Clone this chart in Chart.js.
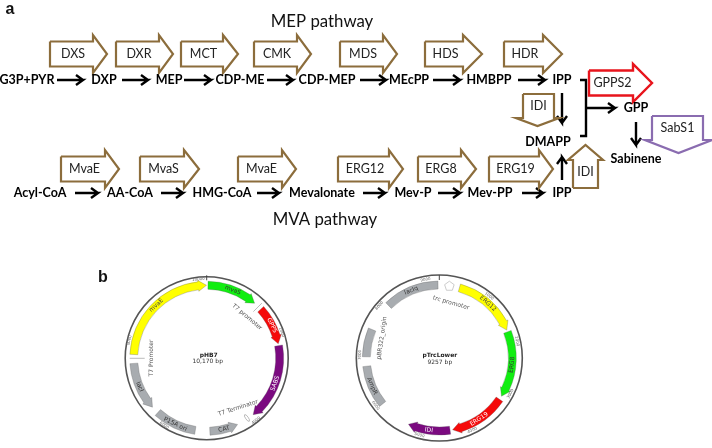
<!DOCTYPE html>
<html>
<head>
<meta charset="utf-8">
<style>
  html, body { margin: 0; padding: 0; background: #fff; }
  #wrap { position: relative; width: 712px; height: 448px; }
</style>
<script src="https://cdn.jsdelivr.net/npm/chart.js@4"></script>
</head>
<body>
<div id="wrap"><canvas id="chart" width="712" height="448"></canvas></div>
<script>
// pathway block arrows, right pointing: name, left, head base, tip, mid y
var enzymeNames = ['DXS', 'DXR', 'MCT', 'CMK', 'MDS', 'HDS', 'HDR', 'MvaE', 'MvaS', 'MvaE', 'ERG12', 'ERG8', 'ERG19', 'GPPS2'];
var enzymeLeft = [50, 116, 181, 254, 340, 425, 504, 61, 140, 238, 338, 418, 489, 589];
var enzymeBase = [93, 159, 223, 297, 383, 463, 543, 105, 184, 282, 389, 461, 539, 633];
var enzymeTip = [107, 173, 238, 311, 397, 482, 562, 119, 199, 296, 403, 476, 553, 652];
var enzymeMid = [54, 54, 54, 54, 54, 54, 54, 169, 169, 169, 169, 169, 169, 83];

// vertical block arrows: name, box left, box right, head left, head right, tail y, head base y, tip y
var vertNames = ['IDI', 'IDI', 'SabS1'];
var vertLeft = [523, 573, 652];
var vertRight = [554, 598, 703];
var vertHeadLeft = [516, 568, 645];
var vertHeadRight = [559, 603, 712];
var vertTail = [94, 188, 116];
var vertBase = [118, 160, 140];
var vertTipY = [126, 145, 153];

// reaction arrows
var arrowX0 = [57, 122, 184, 267, 360, 433, 518, 75, 161, 257, 363, 438, 522, 562, 562, 586, 636];
var arrowY0 = [80, 80, 80, 80, 80, 80, 80, 193, 193, 193, 193, 193, 193, 93, 180, 108, 122];
var arrowX1 = [83, 148, 211, 293, 386, 460, 545, 98, 183, 279, 385, 460, 543, 562, 562, 615, 636];
var arrowY1 = [80, 80, 80, 80, 80, 80, 80, 193, 193, 193, 193, 193, 193, 123, 157, 108, 145];

// bracket joining IPP and DMAPP
var bracketX = [580, 586, 586, 580];
var bracketY = [80, 80, 136, 136];

// metabolites
var metaboliteNames = ['G3P+PYR', 'DXP', 'MEP', 'CDP-ME', 'CDP-MEP', 'MEcPP', 'HMBPP', 'IPP', 'GPP', 'DMAPP', 'Sabinene', 'Acyl-CoA', 'AA-CoA', 'HMG-CoA', 'Mevalonate', 'Mev-P', 'Mev-PP', 'IPP'];
var metaboliteX = [27, 104, 169, 240, 327, 409, 489, 562, 636, 548, 636, 40, 130, 222, 322, 413, 490, 562];
var metaboliteY = [80, 80, 80, 80, 80, 80, 80, 80, 108, 142, 159, 193, 193, 193, 193, 193, 193, 193];

// plasmid pHB7
var hb7Center = [206.7, 358.3];
var hb7Size = 10170;
var hb7Names = ['mvaE', 'mvaS', 'GPPS', 'SABS', 'CAT', 'P15A ori', 'lacI'];
var hb7Start = [7712, 28, 1348, 2260, 5015, 6272, 7514];
var hb7End = [10165, 1158, 2220, 3969, 4379, 5339, 6441];
var hb7Colors = ['#ffff00', '#11ee11', '#f50a0a', '#7b0a80', '#a8acb0', '#a8acb0', '#a8acb0'];
var hb7TextColors = ['#444', '#333', '#fff', '#fff', '#333', '#333', '#333'];
var hb7Heads = [true, true, true, true, true, false, true];
var hb7Ticks = [2000, 4000, 6000, 8000, 10000];

// plasmid pTrcLower
var trcCenter = [439.3, 358];
var trcSize = 9257;
var trcNames = ['ERG12', 'ERG8', 'ERG19', 'IDI', 'AmpR', 'lacIq'];
var trcStart = [411, 1774, 3201, 4410, 6777, 9231];
var trcEnd = [1736, 3127, 4358, 5271, 5939, 8125];
var trcColors = ['#ffff00', '#11ee11', '#f50a0a', '#7b0a80', '#a8acb0', '#a8acb0'];
var trcTextColors = ['#444', '#333', '#fff', '#fff', '#333', '#333'];
var trcHeads = [true, true, true, true, false, false];
var trcTicks = [1000, 2000, 3000, 4000, 5000, 6000, 7000, 8000, 9000];
var trcOriginStart = 7533;
var trcOriginEnd = 6967;

// free text on the plasmids: text, x, y, rotation
var noteTexts = ['T7 promoter', 'T7 Terminator', 'T7 Promoter', 'trc promoter', 'pBR322_origin'];
var noteX = [247, 238, 151.5, 451, 382];
var noteY = [317, 408, 358, 303, 338];
var noteAngle = [40, -18, -90, 16, -82];

var enzymeColor = '#8c6d3c';

function enzymeColorAt(i) {
  if (enzymeNames[i] === 'GPPS2') return '#e8141c';
  return enzymeColor;
}

function enzymeOutline(i) {
  var mid = enzymeMid[i];
  return [
    { x: enzymeLeft[i], y: mid - 12.5 }, { x: enzymeBase[i], y: mid - 12.5 }, { x: enzymeBase[i], y: mid - 19 },
    { x: enzymeTip[i], y: mid }, { x: enzymeBase[i], y: mid + 19 }, { x: enzymeBase[i], y: mid + 12.5 },
    { x: enzymeLeft[i], y: mid + 12.5 }, { x: enzymeLeft[i], y: mid - 12.5 }
  ];
}

function vertOutline(i) {
  var tipX = (vertHeadLeft[i] + vertHeadRight[i]) / 2;
  return [
    { x: vertLeft[i], y: vertTail[i] }, { x: vertRight[i], y: vertTail[i] }, { x: vertRight[i], y: vertBase[i] },
    { x: vertHeadRight[i], y: vertBase[i] }, { x: tipX, y: vertTipY[i] }, { x: vertHeadLeft[i], y: vertBase[i] },
    { x: vertLeft[i], y: vertBase[i] }, { x: vertLeft[i], y: vertTail[i] }
  ];
}

function arrowPath(i) {
  var x0 = arrowX0[i], y0 = arrowY0[i], x1 = arrowX1[i], y1 = arrowY1[i];
  var len = Math.sqrt((x1 - x0) * (x1 - x0) + (y1 - y0) * (y1 - y0));
  var ux = (x1 - x0) / len, uy = (y1 - y0) / len;
  return [
    { x: x0, y: y0 }, { x: x1, y: y1 },
    { x: x1 - ux * 7 - uy * 5, y: y1 - uy * 7 + ux * 5 },
    { x: x1, y: y1 },
    { x: x1 - ux * 7 + uy * 5, y: y1 - uy * 7 - ux * 5 }
  ];
}

function lineSet(points, color, width) {
  return {
    type: 'scatter', showLine: true, data: points, borderColor: color, borderWidth: width,
    pointRadius: 0, fill: false, tension: 0, borderJoinStyle: 'miter'
  };
}

var datasets = [];
enzymeNames.forEach(function (name, i) {
  datasets.push(lineSet(enzymeOutline(i), enzymeColorAt(i), name === 'GPPS2' ? 2.4 : 2.2));
});
vertNames.forEach(function (name, i) {
  datasets.push(lineSet(vertOutline(i), name === 'SabS1' ? '#8a6cb0' : enzymeColor, 2.2));
});
arrowX0.forEach(function (x, i) {
  datasets.push(lineSet(arrowPath(i), '#000', 2.4));
});
datasets.push(lineSet(bracketX.map(function (x, i) { return { x: x, y: bracketY[i] }; }), '#000', 2.4));
// backbone rings
datasets.push({
  type: 'scatter', data: [{ x: hb7Center[0], y: hb7Center[1] }], pointRadius: 81.5,
  pointBorderWidth: 1.6, pointBorderColor: '#555', pointBackgroundColor: 'rgba(0,0,0,0)', clip: false
});
datasets.push({
  type: 'scatter', data: [{ x: trcCenter[0], y: trcCenter[1] }], pointRadius: 83,
  pointBorderWidth: 1.6, pointBorderColor: '#555', pointBackgroundColor: 'rgba(0,0,0,0)', clip: false
});

function drawLabel(ctx, scales, text, x, y, font, color, angle) {
  ctx.save();
  ctx.translate(scales.x.getPixelForValue(x), scales.y.getPixelForValue(y));
  if (angle) ctx.rotate(angle * Math.PI / 180);
  ctx.font = font;
  ctx.fillStyle = color;
  ctx.textAlign = 'center';
  ctx.textBaseline = 'middle';
  ctx.fillText(text, 0, 0);
  ctx.restore();
}

function polar(cx, cy, r, deg) {
  var a = (deg - 90) * Math.PI / 180;
  return { x: cx + r * Math.cos(a), y: cy + r * Math.sin(a) };
}

function drawFeature(ctx, cx, cy, startDeg, endDeg, color, hasHead) {
  var inner = 69, outer = 77, mid = 73;
  var dir = endDeg > startDeg ? 1 : -1;
  var headDeg = hasHead ? 6.5 : 0;
  var baseDeg = endDeg - dir * headDeg;
  var ccw = dir < 0;
  ctx.beginPath();
  ctx.arc(cx, cy, outer, (startDeg - 90) * Math.PI / 180, (baseDeg - 90) * Math.PI / 180, ccw);
  if (hasHead) {
    var p1 = polar(cx, cy, outer + 1.5, baseDeg);
    var tip = polar(cx, cy, mid, endDeg);
    var p2 = polar(cx, cy, inner - 1.5, baseDeg);
    ctx.lineTo(p1.x, p1.y);
    ctx.lineTo(tip.x, tip.y);
    ctx.lineTo(p2.x, p2.y);
  }
  ctx.arc(cx, cy, inner, (baseDeg - 90) * Math.PI / 180, (startDeg - 90) * Math.PI / 180, !ccw);
  ctx.closePath();
  ctx.fillStyle = color;
  ctx.fill();
  ctx.lineWidth = 0.5;
  ctx.strokeStyle = 'rgba(90,90,90,0.6)';
  ctx.stroke();
}

// keeps the text along the arc and never upside down
function textAngle(deg) {
  var d = ((deg % 360) + 360) % 360;
  if (d > 90 && d < 270) return d - 180;
  return d;
}

function drawPlasmid(ctx, scales, center, size, names, starts, ends, colors, textColors, heads, ticks) {
  var cx = scales.x.getPixelForValue(center[0]);
  var cy = scales.y.getPixelForValue(center[1]);
  names.forEach(function (name, i) {
    var s = starts[i] / size * 360, e = ends[i] / size * 360;
    drawFeature(ctx, cx, cy, s, e, colors[i], heads[i]);
    var p = polar(cx, cy, 73, (s + e) / 2);
    ctx.save();
    ctx.translate(p.x, p.y);
    ctx.rotate(textAngle((s + e) / 2) * Math.PI / 180);
    ctx.font = '6px "DejaVu Sans"';
    ctx.fillStyle = textColors[i];
    ctx.textAlign = 'center';
    ctx.textBaseline = 'middle';
    ctx.fillText(name, 0, 0);
    ctx.restore();
  });
  ticks.forEach(function (tick) {
    var deg = tick / size * 360;
    var p = polar(cx, cy, 79.5, deg);
    ctx.save();
    ctx.translate(p.x, p.y);
    ctx.rotate(textAngle(deg) * Math.PI / 180);
    ctx.font = '4px "DejaVu Sans"';
    ctx.fillStyle = '#666';
    ctx.textAlign = 'center';
    ctx.textBaseline = 'middle';
    ctx.fillText(String(tick), 0, 0);
    ctx.restore();
  });
  // origin tick
  ctx.strokeStyle = '#444';
  ctx.lineWidth = 1;
  ctx.beginPath();
  ctx.moveTo(cx, cy - 83);
  ctx.lineTo(cx, cy - 78);
  ctx.stroke();
}

function radialTick(ctx, cx, cy, deg, r0, r1) {
  var a = polar(cx, cy, r0, deg), b = polar(cx, cy, r1, deg);
  ctx.strokeStyle = '#aaa';
  ctx.lineWidth = 0.8;
  ctx.beginPath();
  ctx.moveTo(a.x, a.y);
  ctx.lineTo(b.x, b.y);
  ctx.stroke();
}

var diagramPlugin = {
  id: 'diagramText',
  afterDatasetsDraw: function (chart) {
    var ctx = chart.ctx, scales = chart.scales;
    var bold = 'bold 12.5px Lato', plain = '12.5px Lato';

    drawLabel(ctx, scales, 'MEP pathway', 322, 22, '16.8px Lato', '#111');
    drawLabel(ctx, scales, 'MVA pathway', 325, 220, '16.8px Lato', '#111');
    drawLabel(ctx, scales, 'a', 10, 10, 'bold 16px "Liberation Sans"', '#111');
    drawLabel(ctx, scales, 'b', 103, 278, 'bold 16px "Liberation Sans"', '#111');

    enzymeNames.forEach(function (name, i) {
      drawLabel(ctx, scales, name, (enzymeLeft[i] + enzymeBase[i] + 3) / 2, enzymeMid[i], plain, '#222');
    });
    vertNames.forEach(function (name, i) {
      var midY = name === 'IDI' && i === 1 ? 172 : (vertTail[i] + vertBase[i]) / 2;
      drawLabel(ctx, scales, name, (vertLeft[i] + vertRight[i]) / 2, midY, plain, '#222');
    });
    metaboliteNames.forEach(function (name, i) {
      drawLabel(ctx, scales, name, metaboliteX[i], metaboliteY[i], bold, '#000');
    });

    drawPlasmid(ctx, scales, hb7Center, hb7Size, hb7Names, hb7Start, hb7End, hb7Colors, hb7TextColors, hb7Heads, hb7Ticks);
    drawPlasmid(ctx, scales, trcCenter, trcSize, trcNames, trcStart, trcEnd, trcColors, trcTextColors, trcHeads, trcTicks);

    var hx = scales.x.getPixelForValue(hb7Center[0]), hy = scales.y.getPixelForValue(hb7Center[1]);
    var tx = scales.x.getPixelForValue(trcCenter[0]), ty = scales.y.getPixelForValue(trcCenter[1]);

    // promoter / terminator marks
    radialTick(ctx, hx, hy, 45, 66, 78);
    radialTick(ctx, hx, hy, 270, 62, 77);
    var term = polar(hx, hy, 72, 146);
    ctx.save();
    ctx.translate(term.x, term.y);
    ctx.rotate(-35 * Math.PI / 180);
    ctx.strokeStyle = '#999';
    ctx.lineWidth = 0.6;
    ctx.beginPath();
    ctx.ellipse(0, 0, 1.4, 4, 0, 0, Math.PI * 2);
    ctx.stroke();
    ctx.restore();

    drawFeature(ctx, tx, ty, trcOriginStart / trcSize * 360, trcOriginEnd / trcSize * 360, '#a8acb0', false);

    // trc promoter pentagon
    ctx.strokeStyle = '#aaa';
    ctx.lineWidth = 0.6;
    ctx.beginPath();
    [-90, -18, 54, 126, 198].forEach(function (deg, i) {
      var a = deg * Math.PI / 180;
      var cxp = polar(tx, ty, 72.5, 8);
      var px = cxp.x + 5 * Math.cos(a), py = cxp.y + 5 * Math.sin(a);
      if (i === 0) ctx.moveTo(px, py); else ctx.lineTo(px, py);
    });
    ctx.closePath();
    ctx.stroke();

    noteTexts.forEach(function (text, i) {
      drawLabel(ctx, scales, text, noteX[i], noteY[i], '6px "DejaVu Sans"', '#555', noteAngle[i]);
    });

    drawLabel(ctx, scales, 'pHB7', hb7Center[0] + 2, 355.5, 'bold 6px "DejaVu Sans"', '#222');
    drawLabel(ctx, scales, '10,170 bp', hb7Center[0] + 1, 361.8, '6px "DejaVu Sans"', '#333');
    drawLabel(ctx, scales, 'pTrcLower', trcCenter[0] + 0.5, 355.5, 'bold 6px "DejaVu Sans"', '#222');
    drawLabel(ctx, scales, '9257 bp', trcCenter[0] + 0.5, 362, '6px "DejaVu Sans"', '#333');
  }
};

new Chart(document.getElementById('chart').getContext('2d'), {
  type: 'scatter',
  data: { datasets: datasets },
  options: {
    responsive: false,
    animation: false,
    layout: { padding: 0, autoPadding: false },
    plugins: { legend: { display: false }, tooltip: { enabled: false } },
    scales: {
      x: { type: 'linear', display: false, min: 0, max: 712 },
      y: { type: 'linear', display: false, min: 0, max: 448, reverse: true }
    }
  },
  plugins: [diagramPlugin]
});
</script>
</body>
</html>
